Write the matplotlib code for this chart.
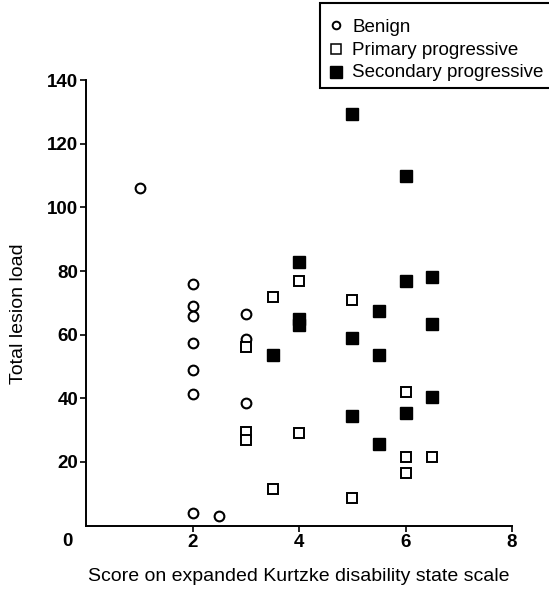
import numpy as np
import matplotlib
matplotlib.use("Agg")
import matplotlib.pyplot as plt
from matplotlib.lines import Line2D
from matplotlib.patches import Rectangle

plt.rcParams['font.family'] = ['Liberation Sans', 'DejaVu Sans']

# ==========================
# Data
# ==========================
benign_x = [1, 2, 2, 2, 2, 2, 2, 2, 2.5, 3, 3, 3]
benign_y = [106, 76, 69, 66, 57.5, 49, 41.5, 4, 3, 66.5, 58.5, 38.5]

primary_x = [3, 3, 3, 3.5, 3.5, 4, 4, 5, 5, 6, 6, 6, 6.5]
primary_y = [56, 29.5, 27, 72, 11.5, 77, 29, 71, 8.5, 42, 21.5, 16.5, 21.5]

secondary_x = [3.5, 4, 4, 4, 5, 5, 5, 5.5, 5.5, 5.5, 6, 6, 6, 6.5, 6.5, 6.5]
secondary_y = [53.5, 83, 65, 63, 129.5, 59, 34.5, 67.5, 53.5, 25.5,
               110, 77, 35.5, 78, 63.5, 40.5]

x_ticks = [2, 4, 6, 8]
y_ticks = [20, 40, 60, 80, 100, 120, 140]

W, H = 549, 589

# ==========================
# Figure
# ==========================
fig = plt.figure(figsize=(W / 100, H / 100), dpi=100)
ax = fig.add_axes([0.1574, 0.1078, 0.7752, 0.7559])

ax.plot(benign_x, benign_y, linestyle='none', marker='o', markersize=7.0,
        markerfacecolor='white', markeredgecolor='black', markeredgewidth=1.5)
ax.plot(primary_x, primary_y, linestyle='none', marker='s', markersize=7.4,
        markerfacecolor='white', markeredgecolor='black', markeredgewidth=1.4)
ax.plot(secondary_x, secondary_y, linestyle='none', marker='s', markersize=8.4,
        markerfacecolor='black', markeredgecolor='black', markeredgewidth=1.0)

ax.set_xlim(0, 8)
ax.set_ylim(0, 140)
ax.set_xticks(x_ticks)
ax.set_yticks(y_ticks)
ax.set_xticklabels([str(t) for t in x_ticks], fontsize=13.5, fontweight='bold')
ax.set_yticklabels([str(t) for t in y_ticks], fontsize=13.5, fontweight='bold')
ax.tick_params(axis='both', direction='out', length=4, width=1.2, pad=2, colors='black')

# combined origin label
ax.text(-0.045, -0.035, "0", transform=ax.transAxes, fontsize=13.5,
        fontweight='bold', ha='center', va='center')

for side in ['top', 'right']:
    ax.spines[side].set_visible(False)
for side in ['left', 'bottom']:
    ax.spines[side].set_linewidth(1.4)

ax.set_xlabel("Score on expanded Kurtzke disability state scale", fontsize=14)
ax.set_ylabel("Total lesion load", fontsize=14)
ax.xaxis.set_label_coords(0.50, -0.095)
ax.yaxis.set_label_coords(-0.139, 0.475)

# ==========================
# Legend (box runs past the right edge, as in the scan)
# ==========================
fig.add_artist(Rectangle((320 / W, 1 - 88 / H), 260 / W, 85 / H,
                         transform=fig.transFigure, facecolor='white',
                         edgecolor='black', linewidth=1.5))

legend_labels = ["Benign", "Primary progressive", "Secondary progressive"]
legend_marker_y = [25, 49, 71.5]
legend_text_y = [32, 55, 77]
legend_styles = [
    dict(marker='o', markersize=5.5, markerfacecolor='white', markeredgewidth=1.4),
    dict(marker='s', markersize=7.0, markerfacecolor='white', markeredgewidth=1.1),
    dict(marker='s', markersize=8.0, markerfacecolor='black', markeredgewidth=1.0),
]
for label, my, ty, style in zip(legend_labels, legend_marker_y, legend_text_y, legend_styles):
    fig.add_artist(Line2D([336 / W], [1 - my / H], transform=fig.transFigure,
                          linestyle='none', markeredgecolor='black', **style))
    fig.text(352 / W, 1 - ty / H, label, fontsize=13.5, ha='left', va='baseline')

fig.savefig("out.png", dpi=100)
